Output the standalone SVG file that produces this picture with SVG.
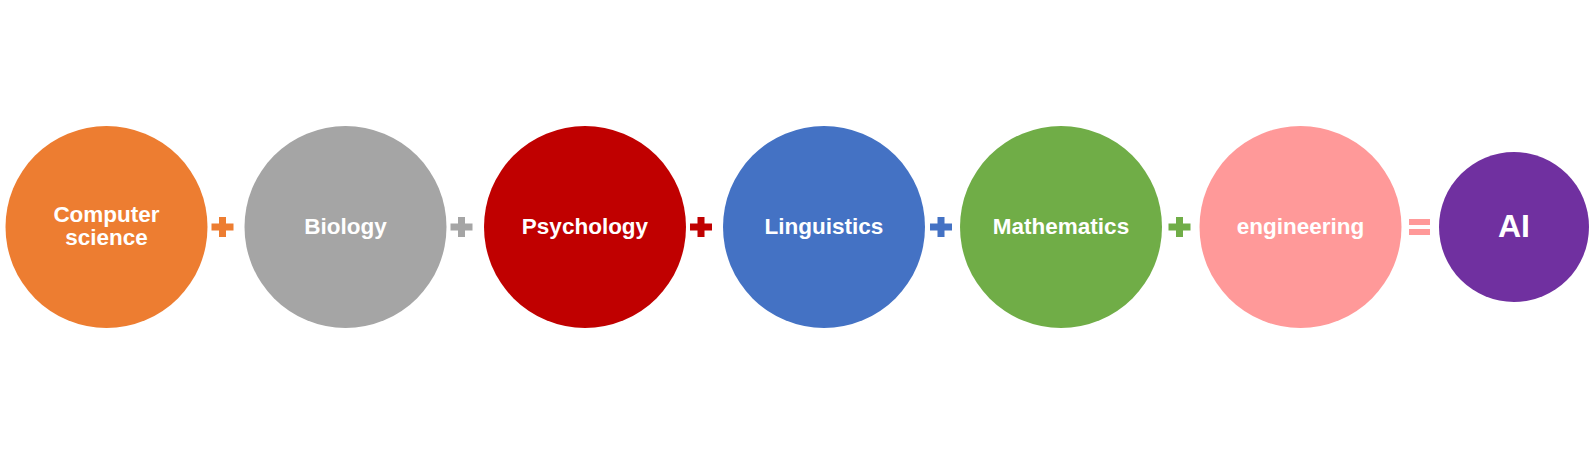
<svg xmlns="http://www.w3.org/2000/svg" width="1593" height="453" viewBox="0 0 1593 453">
<style>
.t{font-family:"Liberation Sans",Arial,sans-serif;font-weight:bold;fill:#fff;text-anchor:middle;font-size:22.5px}
.ai{font-size:32px}
</style>
<rect width="1593" height="453" fill="#fff"/>
<g id="n1"><circle cx="106.5" cy="227" r="101" fill="#ED7D31"/><text class="t" x="106.5" y="221.5">Computer</text><text class="t" x="106.5" y="245">science</text></g>
<g id="n2"><circle cx="345.5" cy="227" r="101" fill="#A5A5A5"/><text class="t" x="345.5" y="234">Biology</text></g>
<g id="n3"><circle cx="585" cy="227" r="101" fill="#C00000"/><text class="t" x="585" y="234">Psychology</text></g>
<g id="n4"><circle cx="824" cy="227" r="101" fill="#4472C4"/><text class="t" x="824" y="234">Linguistics</text></g>
<g id="n5"><circle cx="1061" cy="227" r="101" fill="#70AD47"/><text class="t" x="1061" y="234">Mathematics</text></g>
<g id="n6"><circle cx="1300.5" cy="227" r="101" fill="#FF9999"/><text class="t" x="1300.5" y="234">engineering</text></g>
<g id="n7"><circle cx="1514" cy="227" r="75" fill="#7030A0"/><text class="t ai" x="1514" y="236.5">AI</text></g>
<g id="connectors">
<path d="M211.5 223.5h22v7h-22zM219 217h7v20h-7z" fill="#ED7D31"/>
<path d="M450.5 223.5h22v7h-22zM458 217h7v20h-7z" fill="#A5A5A5"/>
<path d="M690 223.5h22v7h-22zM697.5 217h7v20h-7z" fill="#C00000"/>
<path d="M930 223.5h22v7h-22zM937.5 217h7v20h-7z" fill="#4472C4"/>
<path d="M1168.5 223.5h22v7h-22zM1176 217h7v20h-7z" fill="#70AD47"/>
<path d="M1409 219h21v6h-21zM1409 229h21v6h-21z" fill="#FF9999"/>
</g>
</svg>
